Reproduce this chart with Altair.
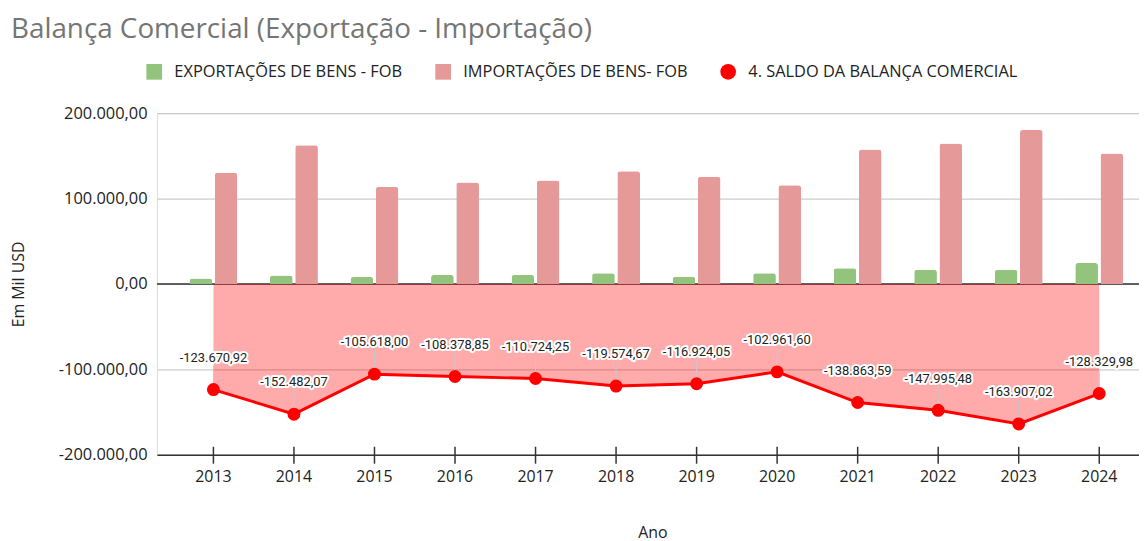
import altair as alt
import pandas as pd

anos = [str(y) for y in range(2013, 2025)]
exportacoes = [6500, 10000, 8000, 10500, 10500, 12500, 8500, 12500, 18500, 16500, 16500, 24500]
importacoes = [130200, 162500, 113600, 118900, 121200, 132100, 125400, 115500, 157400, 164500, 180400, 152800]
saldo = [-123670.92, -152482.07, -105618.00, -108378.85, -110724.25, -119574.67,
         -116924.05, -102961.60, -138863.59, -147995.48, -163907.02, -128329.98]
series = ["EXPORTAÇÕES DE BENS - FOB", "IMPORTAÇÕES DE BENS- FOB", "4. SALDO DA BALANÇA COMERCIAL"]
cores = ["#93c47d", "#e69999", "#ff0000"]
formas = ["square", "square", "circle"]
y_ticks = [-200000, -100000, 0, 100000, 200000]


def br(v):
    s = f"{v:,.2f}"
    return s.replace(",", "#").replace(".", ",").replace("#", ".")


bars = pd.DataFrame({
    "ano": anos * 2,
    "serie": [series[0]] * len(anos) + [series[1]] * len(anos),
    "valor": exportacoes + importacoes,
})
sal = pd.DataFrame({
    "ano": anos,
    "saldo": saldo,
    "rotulo": [br(v) for v in saldo],
    "serie": [series[2]] * len(anos),
})
zero = pd.DataFrame({"z": [0]})

FONT = "Open Sans"
xscale = alt.Scale(domain=anos, paddingInner=0.405, paddingOuter=0.3, align=0.673)
yscale = alt.Scale(domain=[-200000, 200000])

X = alt.X("ano:N", scale=xscale, sort=anos,
          axis=alt.Axis(title="Ano", labelAngle=0, labelAlign="center", ticks=False,
                        domainColor="#333333",
                        domainWidth=1.5, labelFont=FONT, labelFontSize=16, labelColor="#222222",
                        labelPadding=22, titleFont=FONT, titleFontSize=16, titleFontWeight="normal",
                        titleColor="#222222", titleX=499, titleY=78, titleBaseline="middle",
                        grid=False))
Y = alt.Y("valor:Q", scale=yscale,
          axis=alt.Axis(title="Em Mil USD", values=y_ticks, format=",.2f", ticks=False, domain=False,
                        labelFont=FONT, labelFontSize=16.5, labelColor="#222222", labelPadding=10,
                        gridColor="#cccccc", gridWidth=1.2,
                        titleFont=FONT, titleFontSize=16, titleFontWeight="normal",
                        titleColor="#222222", titleX=-139, titleY=172, titleBaseline="middle"))

leg = dict(orient="none", legendX=-11, legendY=-50, direction="horizontal",
           title=None, symbolSize=250, labelFont=FONT, labelFontSize=16.5, labelLimit=500,
           labelColor="#222222", columnPadding=32, labelOffset=12,
           padding=0, symbolStrokeWidth=0)
color = alt.Color("serie:N", scale=alt.Scale(domain=series, range=cores), legend=alt.Legend(**leg))
shape = alt.Shape("serie:N", scale=alt.Scale(domain=series, range=formas), legend=alt.Legend(**leg))

base_s = alt.Chart(sal).encode(x=alt.X("ano:N", scale=xscale, sort=anos))

zero_rule = alt.Chart(zero).mark_rule(color="#333333", strokeWidth=1.5).encode(
    y=alt.Y("z:Q", scale=yscale))

area = base_s.mark_area(color="#ff0000", opacity=0.33).encode(
    y=alt.Y("saldo:Q", scale=yscale), y2=alt.datum(0))

bar = alt.Chart(bars).mark_bar(cornerRadiusTopLeft=3, cornerRadiusTopRight=3).encode(
    x=X, y=Y,
    xOffset=alt.XOffset("serie:N", sort=series[:2],
                        scale=alt.Scale(domain=series[:2], paddingInner=0.1, paddingOuter=0)),
    color=color,
)

leader = base_s.mark_rule(color="#c8c8c8", strokeWidth=1, y2Offset=-24).encode(
    y=alt.Y("saldo:Q", scale=yscale), y2="saldo:Q")

line = base_s.mark_line(color="#ff0000", strokeWidth=3).encode(
    y=alt.Y("saldo:Q", scale=yscale))

pts = base_s.mark_point(filled=True, size=170, opacity=1).encode(
    y=alt.Y("saldo:Q", scale=yscale), color=color, shape=shape)

halo = base_s.mark_text(font="Roboto", fontSize=13, dy=-32, stroke="white", strokeWidth=4,
                        strokeJoin="round", fill="white").encode(
    y=alt.Y("saldo:Q", scale=yscale), text="rotulo:N")
txt = base_s.mark_text(font="Roboto", fontSize=13, dy=-32, color="#222222").encode(
    y=alt.Y("saldo:Q", scale=yscale), text="rotulo:N")

ticks = alt.Chart(sal).mark_rule(color="#333333", strokeWidth=1.5, yOffset=-8, y2Offset=9).encode(
    x=alt.X("ano:N", scale=xscale, sort=anos),
    y=alt.datum(-200000, scale=yscale), y2=alt.datum(-200000))

chart = alt.layer(zero_rule, area, bar, leader, line, pts, halo, txt, ticks).properties(
    width=989, height=344,
    autosize=alt.AutoSizeParams(type="none"),
    padding={"left": 150, "top": 104, "right": 0, "bottom": 89},
    title=alt.Title("Balança Comercial (Exportação - Importação)", anchor="start", font=FONT,
                    fontSize=28, fontWeight="normal", color="#757575", dy=-16),
).configure_view(stroke=None).configure(
    locale={"number": {"decimal": ",", "thousands": ".", "grouping": [3],
                       "currency": ["R$", ""], "minus": "-"}}
).resolve_scale(color="shared", shape="shared")

chart.save("out.html", embed_options={"renderer": "svg", "actions": False})
